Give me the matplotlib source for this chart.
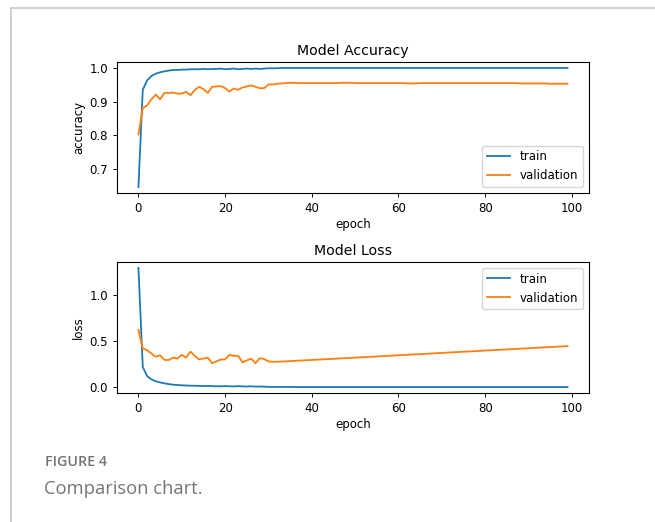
import matplotlib.pyplot as plt
from matplotlib.lines import Line2D

# values, one per epoch (0..99)
acc_train = [
    0.647, 0.935, 0.963, 0.976, 0.983, 0.987, 0.990, 0.992, 0.994, 0.994,
    0.995, 0.995, 0.996, 0.996, 0.996, 0.997, 0.996, 0.997, 0.997, 0.998,
    0.996, 0.997, 0.998, 0.996, 0.997, 0.998, 0.997, 0.998, 0.997, 0.998,
    0.999, 0.999, 0.999, 1.000, 1.000, 1.000, 1.000, 1.000, 1.000, 1.000,
    1.000, 1.000, 1.000, 1.000, 1.000, 1.000, 1.000, 1.000, 1.000, 1.000,
    1.000, 1.000, 1.000, 1.000, 1.000, 1.000, 1.000, 1.000, 1.000, 1.000,
    1.000, 1.000, 1.000, 1.000, 1.000, 1.000, 1.000, 1.000, 1.000, 1.000,
    1.000, 1.000, 1.000, 1.000, 1.000, 1.000, 1.000, 1.000, 1.000, 1.000,
    1.000, 1.000, 1.000, 1.000, 1.000, 1.000, 1.000, 1.000, 1.000, 1.000,
    1.000, 1.000, 1.000, 1.000, 1.000, 1.000, 1.000, 1.000, 1.000, 1.000,
]
acc_val = [
    0.803, 0.881, 0.889, 0.907, 0.921, 0.907, 0.926, 0.926, 0.927, 0.924,
    0.924, 0.929, 0.919, 0.935, 0.944, 0.937, 0.926, 0.944, 0.945, 0.946,
    0.940, 0.930, 0.939, 0.935, 0.942, 0.945, 0.948, 0.944, 0.940, 0.940,
    0.951, 0.951, 0.953, 0.954, 0.955, 0.956, 0.956, 0.955, 0.955, 0.955,
    0.955, 0.955, 0.955, 0.955, 0.955, 0.955, 0.955, 0.956, 0.956, 0.956,
    0.955, 0.955, 0.955, 0.955, 0.955, 0.955, 0.955, 0.955, 0.955, 0.955,
    0.955, 0.955, 0.954, 0.954, 0.954, 0.955, 0.955, 0.955, 0.955, 0.955,
    0.955, 0.955, 0.955, 0.955, 0.955, 0.955, 0.955, 0.955, 0.955, 0.955,
    0.955, 0.955, 0.955, 0.955, 0.955, 0.955, 0.955, 0.955, 0.954, 0.954,
    0.954, 0.954, 0.954, 0.954, 0.954, 0.953, 0.953, 0.953, 0.953, 0.953,
]
loss_train = [
    1.290, 0.220, 0.120, 0.085, 0.065, 0.052, 0.042, 0.034, 0.028, 0.024,
    0.021, 0.019, 0.017, 0.016, 0.015, 0.013, 0.015, 0.012, 0.011, 0.010,
    0.013, 0.010, 0.009, 0.012, 0.009, 0.008, 0.010, 0.007, 0.008, 0.006,
    0.004, 0.004, 0.003, 0.003, 0.003, 0.003, 0.002, 0.002, 0.002, 0.002,
    0.002, 0.002, 0.002, 0.002, 0.002, 0.002, 0.002, 0.002, 0.002, 0.002,
    0.002, 0.002, 0.002, 0.002, 0.002, 0.002, 0.002, 0.002, 0.002, 0.002,
    0.002, 0.002, 0.002, 0.002, 0.002, 0.002, 0.002, 0.002, 0.002, 0.002,
    0.002, 0.002, 0.002, 0.002, 0.002, 0.002, 0.002, 0.002, 0.002, 0.002,
    0.002, 0.002, 0.002, 0.002, 0.002, 0.002, 0.002, 0.002, 0.002, 0.002,
    0.002, 0.002, 0.002, 0.002, 0.002, 0.002, 0.002, 0.002, 0.002, 0.002,
]
loss_val = [
    0.620, 0.420, 0.400, 0.365, 0.330, 0.345, 0.295, 0.295, 0.320, 0.310,
    0.350, 0.320, 0.385, 0.340, 0.300, 0.310, 0.320, 0.260, 0.280, 0.300,
    0.300, 0.350, 0.340, 0.340, 0.270, 0.290, 0.310, 0.260, 0.315, 0.305,
    0.280, 0.275, 0.276, 0.278, 0.280, 0.283, 0.285, 0.288, 0.290, 0.293,
    0.295, 0.298, 0.300, 0.303, 0.305, 0.308, 0.310, 0.313, 0.315, 0.318,
    0.320, 0.323, 0.325, 0.328, 0.330, 0.333, 0.336, 0.338, 0.341, 0.343,
    0.346, 0.348, 0.351, 0.353, 0.356, 0.358, 0.361, 0.363, 0.366, 0.369,
    0.371, 0.374, 0.376, 0.379, 0.381, 0.384, 0.386, 0.389, 0.391, 0.394,
    0.397, 0.399, 0.402, 0.404, 0.407, 0.409, 0.412, 0.414, 0.417, 0.419,
    0.422, 0.425, 0.427, 0.430, 0.432, 0.435, 0.437, 0.440, 0.442, 0.445,
]
epochs = list(range(len(acc_train)))
series_names = ['train', 'validation']

fs = 8.5
lw = 1.3
fig = plt.figure(figsize=(6.55, 5.22), dpi=100)

# top plot - accuracy
ax1 = fig.add_axes([0.1786, 0.6303, 0.7206, 0.251])
ax1.plot(epochs, acc_train, color='#1f77b4', lw=lw, label=series_names[0])
ax1.plot(epochs, acc_val, color='#ff7f0e', lw=lw, label=series_names[1])
ax1.set_title('Model Accuracy', fontsize=10.2, pad=5)
ax1.set_ylabel('accuracy', fontsize=fs, labelpad=3)
ax1.set_xlabel('epoch', fontsize=fs, labelpad=2)
ax1.set_yticks([0.7, 0.8, 0.9, 1.0])
ax1.tick_params(labelsize=fs, length=3, width=0.7)
ax1.legend(loc='lower right', fontsize=fs)

# bottom plot - loss
ax2 = fig.add_axes([0.1786, 0.2471, 0.7206, 0.251])
ax2.plot(epochs, loss_train, color='#1f77b4', lw=lw, label=series_names[0])
ax2.plot(epochs, loss_val, color='#ff7f0e', lw=lw, label=series_names[1])
ax2.set_title('Model Loss', fontsize=10.2, pad=5)
ax2.set_ylabel('loss', fontsize=fs, labelpad=3)
ax2.set_xlabel('epoch', fontsize=fs, labelpad=2)
ax2.set_yticks([0.0, 0.5, 1.0])
ax2.tick_params(labelsize=fs, length=3, width=0.7)
ax2.legend(loc='upper right', fontsize=fs)

for ax in (ax1, ax2):
    for s in ax.spines.values():
        s.set_linewidth(0.8)

# page frame (top and left edges of the screenshot box)
fig.add_artist(Line2D([11 / 655, 1.0], [1 - 8 / 522, 1 - 8 / 522],
                      color='#c8c8c8', lw=1.2))
fig.add_artist(Line2D([11 / 655, 11 / 655], [0.0, 1 - 8 / 522],
                      color='#c8c8c8', lw=1.2))

# caption
fig.text(45 / 655, 1 - 462 / 522, 'FIGURE 4', fontsize=10.3, color='#747474',
         fontweight='semibold', family='Open Sans', va='center')
fig.text(44 / 655, 1 - 489 / 522, 'Comparison chart.', fontsize=13.2,
         color='#747474', family='Open Sans', va='center')

fig.savefig('out.png', dpi=100)
